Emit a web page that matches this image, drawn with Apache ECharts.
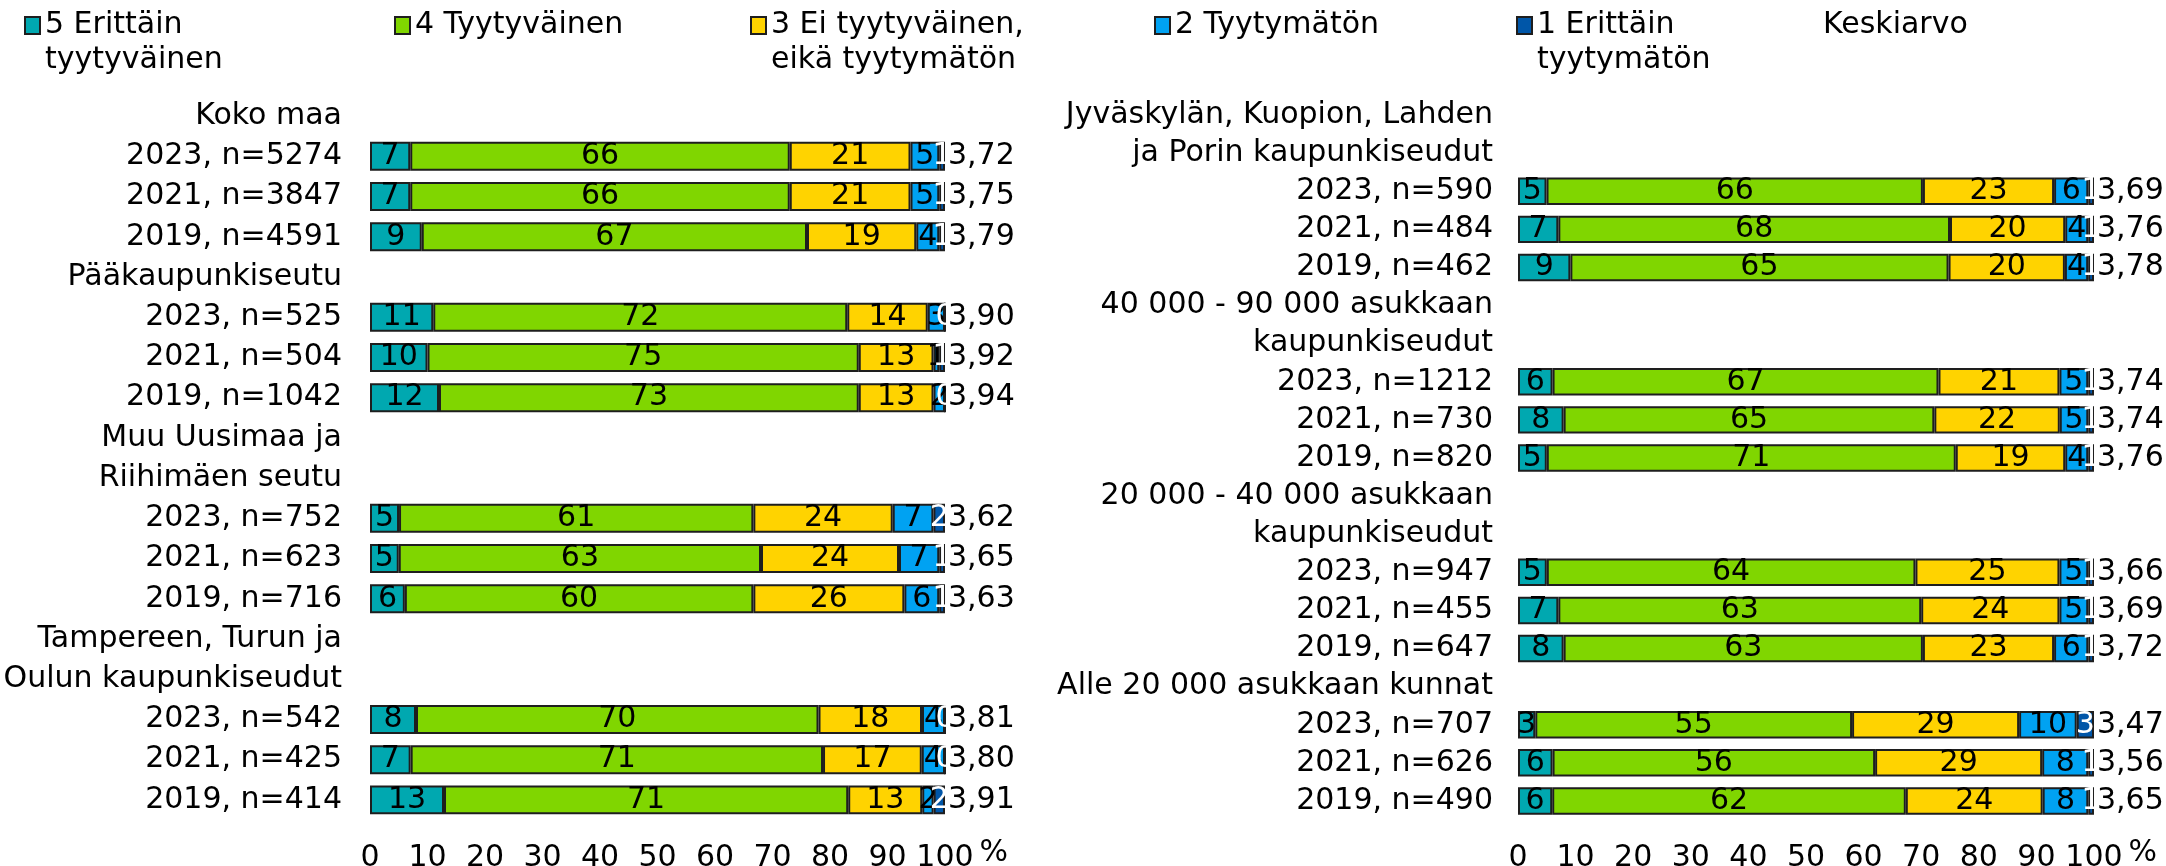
<!DOCTYPE html>
<html>
<head>
<meta charset="utf-8">
<script src="https://cdn.jsdelivr.net/npm/echarts@6/dist/echarts.min.js"></script>
<style>
html,body{margin:0;padding:0;background:#fff;}
#chart{width:2166px;height:866px;}
</style>
</head>
<body>
<div id="chart"></div>
<script>
// ---------- DATA ----------
const seriesNames = ['5 Erittäin tyytyväinen', '4 Tyytyväinen', '3 Ei tyytyväinen, eikä tyytymätön', '2 Tyytymätön', '1 Erittäin tyytymätön'];
const legendTexts = ['5 Erittäin\ntyytyväinen', '4 Tyytyväinen', '3 Ei tyytyväinen,\neikä tyytymätön', '2 Tyytymätön', '1 Erittäin\ntyytymätön', 'Keskiarvo'];
const meanName = 'Keskiarvo';
const xTicks = [0, 10, 20, 30, 40, 50, 60, 70, 80, 90, 100];

const leftCategories = ['Koko maa', '2023, n=5274', '2021, n=3847', '2019, n=4591', 'Pääkaupunkiseutu', '2023, n=525', '2021, n=504', '2019, n=1042', 'Muu Uusimaa ja', 'Riihimäen seutu', '2023, n=752', '2021, n=623', '2019, n=716', 'Tampereen, Turun ja', 'Oulun kaupunkiseudut', '2023, n=542', '2021, n=425', '2019, n=414'];
const left5 = [null, 7, 7, 9, null, 11, 10, 12, null, null, 5, 5, 6, null, null, 8, 7, 13];
const left4 = [null, 66, 66, 67, null, 72, 75, 73, null, null, 61, 63, 60, null, null, 70, 71, 71];
const left3 = [null, 21, 21, 19, null, 14, 13, 13, null, null, 24, 24, 26, null, null, 18, 17, 13];
const left2 = [null, 5, 5, 4, null, 3, 1, 2, null, null, 7, 7, 6, null, null, 4, 4, 2];
const left1 = [null, 1, 1, 1, null, 0, 1, 0, null, null, 2, 1, 1, null, null, 0, 0, 2];
const leftMean = [null, '3,72', '3,75', '3,79', null, '3,90', '3,92', '3,94', null, null, '3,62', '3,65', '3,63', null, null, '3,81', '3,80', '3,91'];

const rightCategories = ['Jyväskylän, Kuopion, Lahden', 'ja Porin kaupunkiseudut', '2023, n=590', '2021, n=484', '2019, n=462', '40 000 - 90 000 asukkaan', 'kaupunkiseudut', '2023, n=1212', '2021, n=730', '2019, n=820', '20 000 - 40 000 asukkaan', 'kaupunkiseudut', '2023, n=947', '2021, n=455', '2019, n=647', 'Alle 20 000 asukkaan kunnat', '2023, n=707', '2021, n=626', '2019, n=490'];
const right5 = [null, null, 5, 7, 9, null, null, 6, 8, 5, null, null, 5, 7, 8, null, 3, 6, 6];
const right4 = [null, null, 66, 68, 65, null, null, 67, 65, 71, null, null, 64, 63, 63, null, 55, 56, 62];
const right3 = [null, null, 23, 20, 20, null, null, 21, 22, 19, null, null, 25, 24, 23, null, 29, 29, 24];
const right2 = [null, null, 6, 4, 4, null, null, 5, 5, 4, null, null, 5, 5, 6, null, 10, 8, 8];
const right1 = [null, null, 1, 1, 1, null, null, 1, 1, 1, null, null, 1, 1, 1, null, 3, 1, 1];
const rightMean = [null, null, '3,69', '3,76', '3,78', null, null, '3,74', '3,74', '3,76', null, null, '3,66', '3,69', '3,72', null, '3,47', '3,56', '3,65'];

// ---------- STYLE ----------
const FONT = 'DejaVu Sans';
const FS = 30;
const COLORS = ['#00A8B0', '#80D600', '#FFD300', '#00A2F2', '#0056A8'];
const LABEL_COLORS = ['#000', '#000', '#000', '#000', '#fff'];
const BORDER = '#1e1e1e';

function panelSeries(idx, cols, means) {
  const sums = cols[0].map((v, i) => v == null ? null : cols.reduce((s, c) => s + c[i], 0));
  const out = cols.map((col, k) => ({
    name: seriesNames[k],
    type: 'bar',
    stack: 'p' + idx,
    xAxisIndex: idx,
    yAxisIndex: idx,
    barCategoryGap: '28%',
    clip: false,
    itemStyle: { color: COLORS[k], borderColor: BORDER, borderWidth: 2 },
    label: {
      show: true, position: 'inside', color: LABEL_COLORS[k],
      fontSize: FS, fontFamily: FONT,
      formatter: p => String(col[p.dataIndex])
    },
    emphasis: { disabled: true },
    data: col.map((v, i) => v == null ? '-' : v / sums[i] * 100)
  }));
  out.push({
    name: meanName,
    type: 'bar',
    stack: 'p' + idx,
    xAxisIndex: idx,
    yAxisIndex: idx,
    barCategoryGap: '28%',
    clip: false,
    itemStyle: { color: 'rgba(0,0,0,0)', borderWidth: 0 },
    label: {
      show: true, position: 'right', distance: 3, color: '#000',
      fontSize: FS, fontFamily: FONT,
      formatter: p => means[p.dataIndex]
    },
    emphasis: { disabled: true },
    data: means.map(m => m == null ? '-' : 0)
  });
  return out;
}

const legendX = [24, 394, 750, 1154, 1516, 1803];
const LH = 35;

function makeXAxis(gridIndex) {
  return {
    type: 'value', gridIndex, min: 0, max: 100, interval: 10,
    axisLine: { show: false }, axisTick: { show: false }, splitLine: { show: false },
    axisLabel: { color: '#000', fontSize: FS, fontFamily: FONT, margin: 23,
      formatter: v => xTicks.includes(v) ? String(v) : '' },
    name: '%', nameLocation: 'end', nameGap: 29,
    nameTextStyle: { color: '#000', fontSize: FS, fontFamily: FONT, verticalAlign: 'top', padding: [18, 0, 0, 0] }
  };
}
function makeYAxis(gridIndex, cats, margin) {
  return {
    type: 'category', gridIndex, inverse: true, data: cats,
    axisLine: { show: false }, axisTick: { show: false }, splitLine: { show: false },
    axisLabel: { color: '#000', fontSize: FS, fontFamily: FONT, margin, interval: 0 }
  };
}

// legend text: blank line on top so the first text line is centred on the icon
function legendLabel(t) {
  return t.indexOf('\n') >= 0 ? ' \n' + t : ' \n' + t + '\n ';
}

const chart = echarts.init(document.getElementById('chart'), null, { renderer: 'canvas' });
chart.setOption({
  animation: false,
  backgroundColor: '#fff',
  textStyle: { fontFamily: FONT },
  grid: [
    { left: 370, width: 575, top: 96, height: 724, containLabel: false, outerBoundsMode: 'none' },
    { left: 1518, width: 576, top: 96, height: 724, containLabel: false, outerBoundsMode: 'none' }
  ],
  xAxis: [makeXAxis(0), makeXAxis(1)],
  yAxis: [makeYAxis(0, leftCategories, 28), makeYAxis(1, rightCategories, 25)],
  legend: legendTexts.map((t, i) => ({
    data: [{ name: i < 5 ? seriesNames[i] : meanName, icon: i < 5 ? 'rect' : 'none' }],
    left: legendX[i], top: -27, padding: 0,
    itemWidth: 15, itemHeight: 17, itemGap: 0,
    selectedMode: false,
    formatter: () => legendLabel(t),
    textStyle: { color: '#000', fontSize: FS, fontFamily: FONT, lineHeight: LH }
  })),
  series: [
    ...panelSeries(0, [left5, left4, left3, left2, left1], leftMean),
    ...panelSeries(1, [right5, right4, right3, right2, right1], rightMean)
  ]
});
</script>
</body>
</html>
